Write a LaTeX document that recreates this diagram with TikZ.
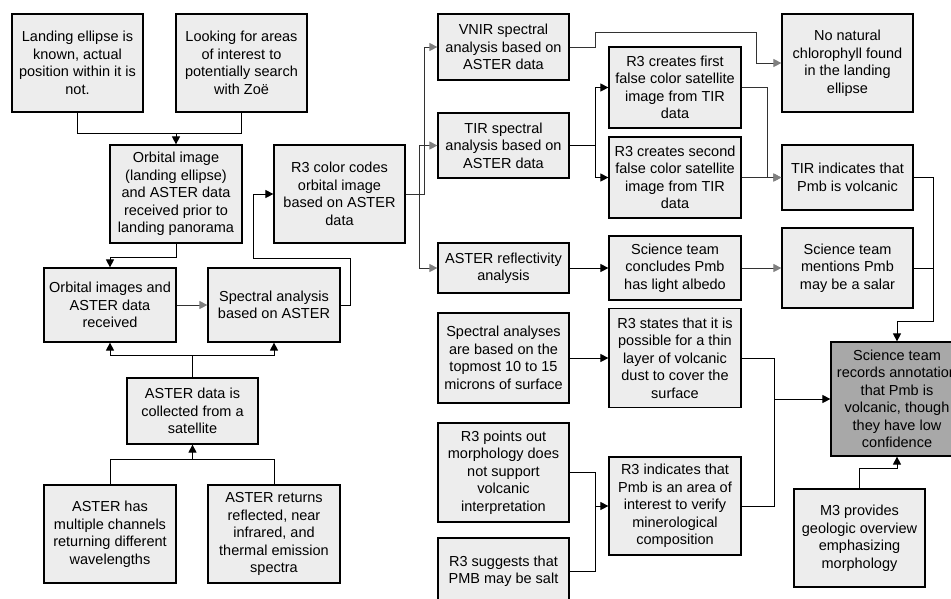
\documentclass[tikz,border=0pt]{standalone}
\usepackage{fontspec}
\setmainfont{Liberation Sans}
\usetikzlibrary{arrows.meta}
\definecolor{boxfill}{HTML}{EDEDED}
\definecolor{darkfill}{HTML}{A8A8A8}
\tikzset{
  box/.style={draw=black, line width=1.2pt, fill=boxfill, rectangle, align=center,
    inner sep=1pt, font=\fontsize{14.5}{17.5}\selectfont, minimum width=#1},
  box/.default=131pt,
  arr/.style={line width=0.9pt, -{Triangle[length=8pt,width=8pt]}},
  garr/.style={line width=0.9pt, draw=black!80, -{Triangle[length=8pt,width=8pt,color=black!50]}},
  ln/.style={line width=0.9pt},
}
\begin{document}
\begin{tikzpicture}[x=1pt,y=-1pt]
\useasboundingbox (0,0) rectangle (951,598);
\clip (0,0) rectangle (951,598);
% left column
\node[box, minimum height=98pt] (land) at (77.5,63) {Landing ellipse is\\known, actual\\position within it is\\not.};
\node[box, minimum height=98pt] (look) at (241.5,63) {Looking for areas\\of interest to\\potentially search\\with Zoë};
\node[box=132pt, minimum height=98pt] (orb) at (176,194) {Orbital image\\(landing ellipse)\\and ASTER data\\received prior to\\landing panorama};
\node[box=132pt, minimum height=74pt] (oimg) at (110,305) {Orbital images and\\ASTER data\\received};
\node[box=132pt, minimum height=74pt] (spec) at (274,305) {Spectral analysis\\based on ASTER};
\node[box, minimum height=98pt] (r3cc) at (339.5,194) {R3 color codes\\orbital image\\based on ASTER\\data};
\node[box, minimum height=66pt] (coll) at (192.5,411) {ASTER data is\\collected from a\\satellite};
\node[box=132pt, minimum height=98pt] (mult) at (110,534) {ASTER has\\multiple channels\\returning different\\wavelengths};
\node[box=132pt, minimum height=98pt] (ret) at (274,534) {ASTER returns\\reflected, near\\infrared, and\\thermal emission\\spectra};
% middle columns
\node[box, minimum height=66pt] (vnir) at (503.5,47) {VNIR spectral\\analysis based on\\ASTER data};
\node[box, minimum height=65pt] (tir) at (503.5,145.5) {TIR spectral\\analysis based on\\ASTER data};
\node[box, minimum height=50pt] (refl) at (503.5,268) {ASTER reflectivity\\analysis};
\node[box=132pt, minimum height=81pt] (first) at (675,87.5) {R3 creates first\\false color satellite\\image from TIR\\data};
\node[box=132pt, minimum height=81pt] (second) at (675,177.5) {R3 creates second\\false color satellite\\image from TIR\\data};
\node[box=132pt, minimum height=64pt] (concl) at (675,268) {Science team\\concludes Pmb\\has light albedo};
\node[box, minimum height=90pt] (spa) at (503.5,358) {Spectral analyses\\are based on the\\topmost 10 to 15\\microns of surface};
\node[box=132pt, minimum height=99pt] (states) at (675,358) {R3 states that it is\\possible for a thin\\layer of volcanic\\dust to cover the\\surface};
\node[box, minimum height=99pt] (points) at (503.5,472.5) {R3 points out\\morphology does\\not support\\volcanic\\interpretation};
\node[box, minimum height=66pt] (sugg) at (503.5,571) {R3 suggests that\\PMB may be salt};
\node[box=132pt, minimum height=98pt] (ind) at (675,506) {R3 indicates that\\Pmb is an area of\\interest to verify\\minerological\\composition};
% right column
\node[box, minimum height=98pt] (nochl) at (847.5,63) {No natural\\chlorophyll found\\in the landing\\ellipse};
\node[box, minimum height=65pt] (tirind) at (847.5,177.5) {TIR indicates that\\Pmb is volcanic};
\node[box, minimum height=80pt] (mentions) at (847.5,268) {Science team\\mentions Pmb\\may be a salar};
\node[box=132pt, minimum height=114pt, fill=darkfill] (annot) at (897,399) {Science team\\records annotation\\that Pmb is\\volcanic, though\\they have low\\confidence};
\node[box, minimum height=98pt] (m3) at (859.5,538) {M3 provides\\geologic overview\\emphasizing\\morphology};
% junctions
\coordinate (j1) at (176,133);
\coordinate (j2) at (192.5,355);
\coordinate (j3) at (192.5,459);
\coordinate (j4) at (897,321);
\coordinate (j5) at (774,399);
\coordinate (j6) at (595,506);
\coordinate (j7) at (897,468);
% connectors
\draw[ln] (land.south) |- (j1);
\draw[ln] (look.south) |- (j1);
\draw[arr] (j1) -- (orb.north);
\draw[arr] (orb.south) -- ++(0,14) -| (oimg.north);
\draw[garr] (oimg.east) -- (spec.west);
\draw[arr] (spec.east) -- ++(10,0) -- ++(0,-47) -- ++(-97,0) |- (r3cc.west);
\draw[ln] (coll.north) -- (j2);
\draw[arr] (j2) -| (oimg.south);
\draw[arr] (j2) -| (spec.south);
\draw[ln] (mult.north) |- (j3);
\draw[ln] (ret.north) |- (j3);
\draw[arr] (j3) -- (coll.south);
\draw[garr] (r3cc.east) -- ++(19,0) |- (vnir.west);
\draw[garr] (r3cc.east) -- ++(14,0) |- (tir.west);
\draw[garr] (r3cc.east) -- ++(14,0) |- (refl.west);
\draw[garr] (vnir.east) -- ++(26,0) -- ++(0,-15) -- ++(161,0) |- (nochl.west);
\draw[arr] (tir.east) -- ++(26,0) |- (first.west);
\draw[arr] (tir.east) -- ++(26,0) |- (second.west);
\draw[arr] (refl.east) -- (concl.west);
\draw[garr] (concl.east) -- (mentions.west);
\draw[garr] (first.east) -- ++(26,0) |- (tirind.west);
\draw[garr] (second.east) -- (tirind.west);
\draw[arr] (tirind.east) -- ++(20,0) |- (j4) -- (annot.north);
\draw[ln] (mentions.east) -- ++(20,0);
\draw[arr] (spa.east) -- (states.west);
\draw[ln] (states.east) -| (j5);
\draw[ln] (ind.east) -| (j5);
\draw[arr] (j5) -- (annot.west);
\draw[ln] (points.east) -| (j6);
\draw[ln] (sugg.east) -| (j6);
\draw[arr] (j6) -- (ind.west);
\draw[arr] (m3.north) |- (j7) -- (annot.south);
\end{tikzpicture}
\end{document}
